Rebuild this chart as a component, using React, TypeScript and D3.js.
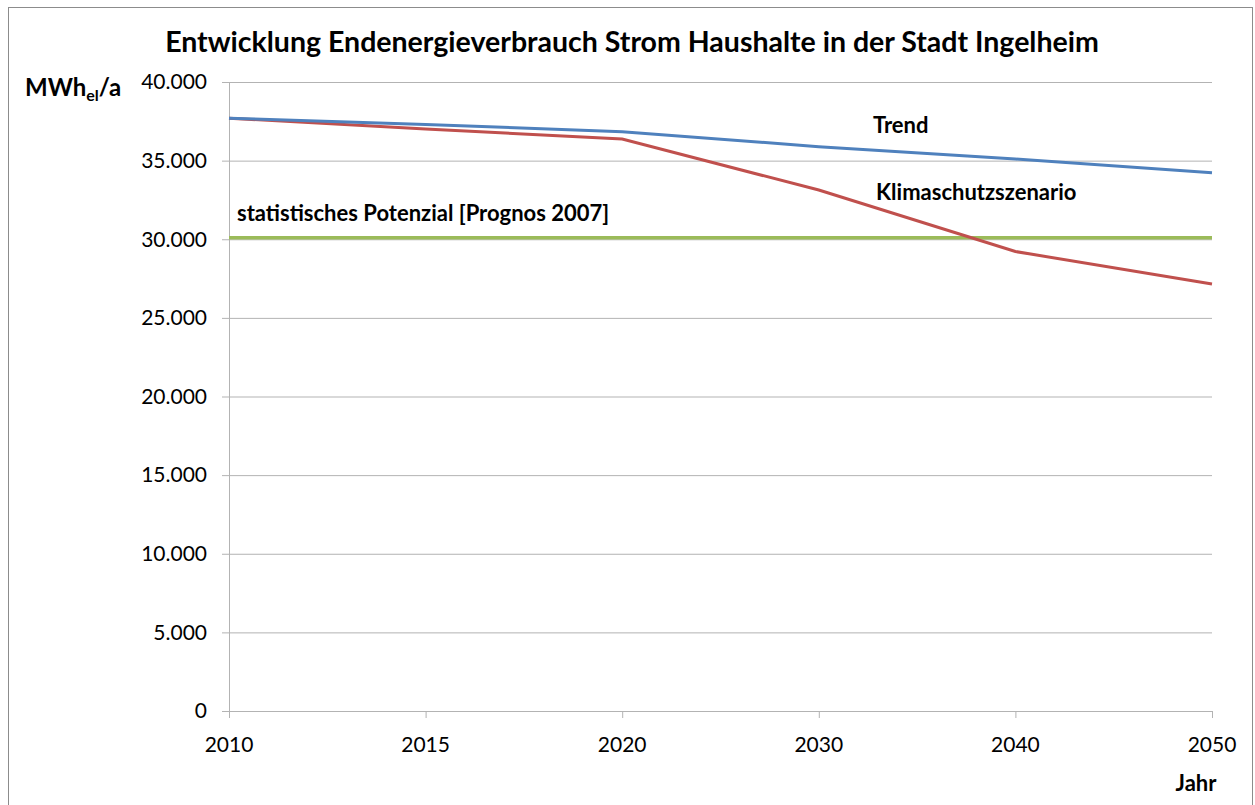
import React from "react";
import * as d3 from "d3";

const categories = ["2010", "2015", "2020", "2030", "2040", "2050"];
const trend = [37700, 37300, 36840, 35890, 35100, 34230];
const klima = [37700, 37010, 36370, 33130, 29220, 27150];
const potenzial = [30100, 30100, 30100, 30100, 30100, 30100];
const yTicks = [0, 5000, 10000, 15000, 20000, 25000, 30000, 35000, 40000];

const W = 1255;
const H = 805;
const left = 229;
const right = 1212;
const top = 82;
const bottom = 711;
const font = "Lato, 'Open Sans', sans-serif";

export default function App() {
  const x = d3.scalePoint<string>().domain(categories).range([left, right]);
  const y = d3.scaleLinear().domain([0, 40000]).range([bottom, top]);
  const line = d3
    .line<number>()
    .x((_, i) => x(categories[i]) as number)
    .y((d) => y(d));
  const fmt = (v: number) =>
    v === 0 ? "0" : d3.format(",")(v).replace(/,/g, ".");
  const xTickVals = d3.range(0, 6);

  return (
    <svg
      width={W}
      height={H}
      style={{ position: "absolute", left: 0, top: 0, background: "#fff" }}
      fontFamily={font}
    >
      <rect x={8.5} y={7.5} width={1244} height={820} fill="#fff" stroke="#8c8c8c" strokeWidth={1} />
      <text x={632} y={52} textAnchor="middle" fontSize={28.5} fontWeight="bold" fill="#000">
        Entwicklung Endenergieverbrauch Strom Haushalte in der Stadt Ingelheim
      </text>
      {yTicks.map((t) => (
        <g key={t}>
          <line x1={left - 7} x2={right} y1={y(t) + 0.5} y2={y(t) + 0.5} stroke="#b3b3b3" strokeWidth={1} />
          <text x={207} y={y(t)} dy="0.35em" textAnchor="end" fontSize={21} fill="#000">
            {fmt(t)}
          </text>
        </g>
      ))}
      <line x1={left + 0.5} x2={left + 0.5} y1={top} y2={bottom + 7} stroke="#b3b3b3" strokeWidth={1} />
      {xTickVals.map((i) => (
        <line
          key={i}
          x1={(x(categories[i]) as number) + 0.5}
          x2={(x(categories[i]) as number) + 0.5}
          y1={bottom}
          y2={bottom + 7}
          stroke="#b3b3b3"
          strokeWidth={1}
        />
      ))}
      {categories.map((c) => (
        <text key={c} x={x(c) as number} y={745} dy="0.35em" textAnchor="middle" fontSize={21} fill="#000">
          {c}
        </text>
      ))}
      <path d={line(potenzial) || ""} fill="none" stroke="#9BBB59" strokeWidth={3.5} />
      <path d={line(klima) || ""} fill="none" stroke="#C0504D" strokeWidth={3} />
      <path d={line(trend) || ""} fill="none" stroke="#4F81BD" strokeWidth={3} />
      <text x={25} y={96} fontSize={24} fontWeight="bold" fill="#000">
        MWh
        <tspan fontSize={16} dy={5}>el</tspan>
        <tspan dy={-5}>/a</tspan>
      </text>
      <text x={1196} y={791} textAnchor="middle" fontSize={22} fontWeight="bold" fill="#000">
        Jahr
      </text>
      <text x={873} y={133} fontSize={22} fontWeight="bold" fill="#000">
        Trend
      </text>
      <text x={876} y={200} fontSize={22} fontWeight="bold" fill="#000">
        Klimaschutzszenario
      </text>
      <text x={237} y={221} fontSize={22} fontWeight="bold" fill="#000">
        statistisches Potenzial [Prognos 2007]
      </text>
    </svg>
  );
}
